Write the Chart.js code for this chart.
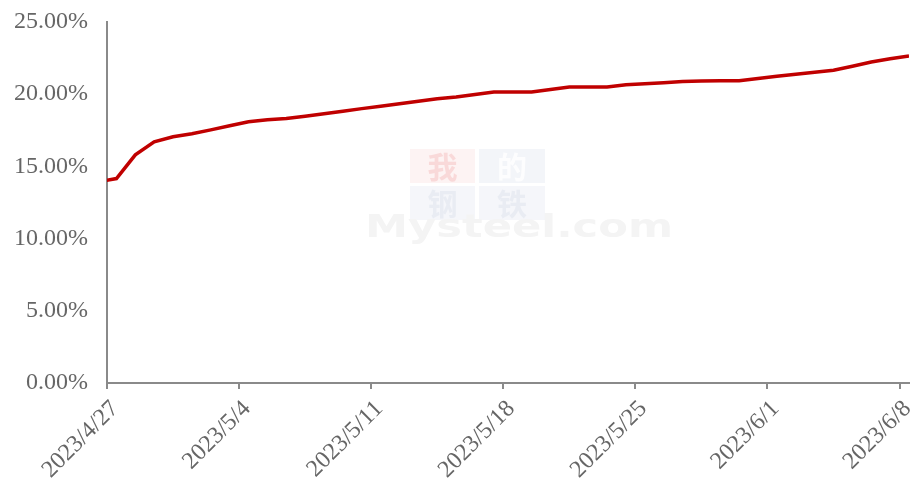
<!DOCTYPE html>
<html>
<head>
<meta charset="utf-8">
<script src="https://cdn.jsdelivr.net/npm/chart.js@4"></script>
<style>
  html, body { margin: 0; padding: 0; background: #ffffff; }
  #wrap { width: 910px; height: 480px; position: relative; }
</style>
</head>
<body>
<div id="wrap"><canvas id="c" width="910" height="480"></canvas></div>
<script>
// Axis start date (first tick) and daily observation dates
const axisStart = '2023/4/27';
const dates = [
  '2023/4/26','2023/4/27','2023/4/28','2023/4/29','2023/4/30','2023/5/1','2023/5/2','2023/5/3',
  '2023/5/4','2023/5/5','2023/5/6','2023/5/7','2023/5/8','2023/5/9','2023/5/10',
  '2023/5/11','2023/5/12','2023/5/13','2023/5/14','2023/5/15','2023/5/16','2023/5/17',
  '2023/5/18','2023/5/19','2023/5/20','2023/5/21','2023/5/22','2023/5/23','2023/5/24',
  '2023/5/25','2023/5/26','2023/5/27','2023/5/28','2023/5/29','2023/5/30','2023/5/31',
  '2023/6/1','2023/6/2','2023/6/3','2023/6/4','2023/6/5','2023/6/6','2023/6/7','2023/6/8'
];
// Series values (%)
const values = [
  13.92, 14.16, 15.80, 16.70, 17.05, 17.26, 17.53, 17.81,
  18.09, 18.23, 18.31, 18.47, 18.64, 18.82, 19.00,
  19.16, 19.34, 19.51, 19.68, 19.81, 19.98, 20.15,
  20.15, 20.15, 20.33, 20.50, 20.50, 20.50, 20.66,
  20.72, 20.79, 20.88, 20.91, 20.93, 20.94, 21.09,
  21.24, 21.38, 21.52, 21.66, 21.93, 22.23, 22.45, 22.65
];
// Tick labels on the date axis
const xTickLabels = ['2023/4/27','2023/5/4','2023/5/11','2023/5/18','2023/5/25','2023/6/1','2023/6/8'];
const yTicks = [0, 5, 10, 15, 20, 25];

const DAY = 86400000;
const parseD = s => { const [y, m, d] = s.split('/').map(Number); return Date.UTC(y, m - 1, d); };
const t0 = parseD(axisStart);
const dayIndex = s => Math.round((parseD(s) - t0) / DAY);
// Excel date axis places each day's point in the middle of its day slot
const points = dates.map((d, i) => ({ x: dayIndex(d) + 0.5, y: values[i] }));
const tickPos = xTickLabels.map(dayIndex);
const xMax = dayIndex(dates[dates.length - 1]) + 0.5;

const watermark = {
  id: 'watermark',
  beforeDatasetsDraw(chart) {
    const ctx = chart.ctx;
    ctx.save();
    const boxes = [
      { x: 410, y: 149, w: 65, h: 34, bg: '#fdf3f3', fg: '#f9d9d9', ch: '我' },
      { x: 479, y: 149, w: 66, h: 34, bg: '#f3f5f9', fg: '#fdfdfe', ch: '的' },
      { x: 410, y: 186, w: 65, h: 34, bg: '#f5f6fa', fg: '#e9ecf3', ch: '钢' },
      { x: 479, y: 186, w: 66, h: 34, bg: '#f5f6fa', fg: '#e9ecf3', ch: '铁' }
    ];
    ctx.textAlign = 'center';
    ctx.textBaseline = 'middle';
    boxes.forEach(b => {
      ctx.fillStyle = b.bg;
      ctx.fillRect(b.x, b.y, b.w, b.h);
      ctx.fillStyle = b.fg;
      ctx.font = 'bold 30px "Noto Sans CJK SC"';
      ctx.fillText(b.ch, b.x + b.w / 2, b.y + b.h / 2 + 1);
    });
    ctx.font = 'bold 32px "DejaVu Sans"';
    ctx.fillStyle = '#f4f4f4';
    const txt = 'Mysteel.com';
    const w = ctx.measureText(txt).width;
    ctx.translate(365, 229);
    ctx.scale(308 / w, 1);
    ctx.textAlign = 'left';
    ctx.fillText(txt, 0, 0);
    ctx.restore();
  }
};

const axisGray = '#8a8a8a';
const labelGray = '#666666';
const font = { family: '"Liberation Serif", "Times New Roman", serif', size: 24 };

new Chart(document.getElementById('c'), {
  type: 'line',
  data: {
    datasets: [{
      data: points,
      borderColor: '#C00000',
      borderWidth: 3.5,
      pointRadius: 0,
      pointHoverRadius: 0,
      tension: 0,
      fill: false,
      clip: 0
    }]
  },
  options: {
    responsive: false,
    animation: false,
    events: [],
    layout: { padding: { top: 22, right: 1, left: 0, bottom: 0 } },
    plugins: { legend: { display: false }, tooltip: { enabled: false } },
    scales: {
      x: {
        type: 'linear',
        min: 0,
        max: xMax,
        afterBuildTicks: s => { s.ticks = tickPos.map(v => ({ value: v })); },
        afterFit: s => { s.height = 97; s.paddingLeft = 0; s.paddingRight = 0; },
        grid: { display: true, drawOnChartArea: false, drawTicks: true, tickLength: 6, color: axisGray, lineWidth: 2 },
        border: { display: true, color: axisGray, width: 2 },
        ticks: {
          autoSkip: false,
          minRotation: 45,
          maxRotation: 45,
          padding: 6,
          labelOffset: 8,
          color: labelGray,
          font: font,
          callback: (v) => { const i = tickPos.indexOf(v); return i >= 0 ? xTickLabels[i] : ''; }
        }
      },
      y: {
        min: 0,
        max: 25,
        afterBuildTicks: s => { s.ticks = yTicks.map(v => ({ value: v })); },
        afterFit: s => { s.width = 107; s.paddingTop = 0; s.paddingBottom = 0; },
        grid: { display: false, drawOnChartArea: false, drawTicks: false },
        border: { display: true, color: axisGray, width: 2 },
        ticks: {
          padding: 19,
          color: labelGray,
          font: font,
          callback: v => v.toFixed(2) + '%'
        }
      }
    }
  },
  plugins: [watermark]
});
</script>
</body>
</html>
